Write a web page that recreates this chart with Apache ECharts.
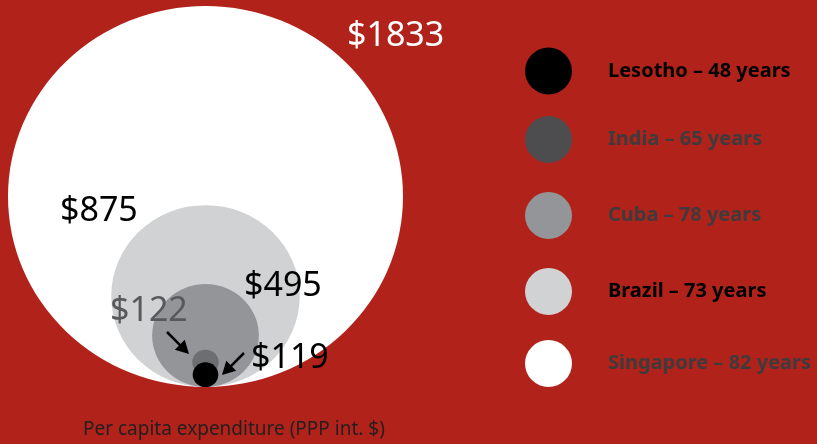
<!DOCTYPE html>
<html>
<head>
<meta charset="utf-8">
<script src="https://cdn.jsdelivr.net/npm/echarts@6/dist/echarts.min.js"></script>
<style>
  html, body { margin: 0; padding: 0; background: #b1221a; }
  #chart { width: 817px; height: 444px; }
</style>
</head>
<body>
<div id="chart"></div>
<script>
  // data
  const countries = ['Singapore', 'Brazil', 'Cuba', 'India', 'Lesotho'];
  const spend = [1833, 875, 495, 122, 119];       // per capita expenditure, PPP int. $
  const lifeExp = [82, 73, 78, 65, 48];           // life expectancy, years
  const legendOrder = ['Lesotho', 'India', 'Cuba', 'Brazil', 'Singapore'];

  // styles
  const fills = { Singapore: '#ffffff', Brazil: '#d1d2d4', Cuba: '#939598', India: '#6d6e70', Lesotho: '#000000' };
  const legendFills = { India: '#4d4d4f' };
  const legendText = { Lesotho: '#000000', India: '#3e3b3c', Cuba: '#3e3b3c', Brazil: '#000000', Singapore: '#3e3b3c' };
  const legendTops = [71, 139.5, 215.5, 291.5, 363.5];

  const grid = { left: 8, top: 6, width: 395, height: 381 };
  const maxSpend = Math.max.apply(null, spend);
  const kx = grid.width / maxSpend;
  const ky = grid.height / maxSpend;

  let myChart = echarts.init(document.getElementById('chart'));

  // circles sit on the baseline, diameter proportional to spending
  const series = countries.map((c, i) => ({
    name: c,
    type: 'scatter',
    data: [[0, spend[i] / 2, spend[i]]],
    symbol: 'circle',
    symbolSize: v => [v[2] * kx, v[2] * ky],
    symbolOffset: c === 'India' ? [0, -12] : [0, 0],
    itemStyle: { color: fills[c], opacity: 1 },
    emphasis: { disabled: true },
    silent: true
  }));

  // one legend per row so rows can sit where the picture has them
  const legends = legendOrder.map((c, i) => ({
    data: [{ name: c, itemStyle: legendFills[c] ? { color: legendFills[c] } : undefined }],
    left: 520,
    top: legendTops[i] - 23.5 - 5,
    icon: 'circle',
    itemWidth: 47,
    itemHeight: 47,
    selectedMode: false,
    formatter: n => n + ' \u2013 ' + lifeExp[countries.indexOf(n)] + ' years',
    textStyle: {
      color: legendText[c],
      fontFamily: 'Noto Sans',
      fontWeight: 'bold',
      fontSize: 20,
      padding: [0, 0, 0, 31]
    }
  }));

  function arrow(x1, y1, x2, y2) {
    const len = Math.hypot(x2 - x1, y2 - y1);
    const ux = (x2 - x1) / len, uy = (y2 - y1) / len;
    const hl = 13, hw = 7;
    const bx = x2 - ux * hl, by = y2 - uy * hl;
    return [
      { type: 'line', z: 100, shape: { x1: x1, y1: y1, x2: bx + ux, y2: by + uy }, style: { stroke: '#000', lineWidth: 2.5 } },
      { type: 'polygon', z: 100, shape: { points: [[x2, y2], [bx - uy * hw, by + ux * hw], [bx + uy * hw, by - ux * hw]] }, style: { fill: '#000' } }
    ];
  }

  const valueLabel = (i, x, y, color) => ({
    type: 'text', x: x, y: y, z: 100,
    style: { text: '$' + spend[i], fill: color, font: '34px "Noto Sans"', verticalAlign: 'middle' }
  });

  myChart.setOption({
    backgroundColor: '#b1221a',
    animation: false,
    grid: grid,
    xAxis: { type: 'value', min: -maxSpend / 2, max: maxSpend / 2, show: false },
    yAxis: { type: 'value', min: 0, max: maxSpend, show: false },
    legend: legends,
    series: series,
    graphic: [
      valueLabel(0, 347, 36, '#ffffff'),
      valueLabel(1, 60, 211, '#000000'),
      valueLabel(2, 244, 286, '#000000'),
      valueLabel(3, 110, 311, '#58595b'),
      valueLabel(4, 251, 358.5, '#000000'),
      ...arrow(167, 332, 189, 354),
      ...arrow(244, 353, 222, 375),
      { type: 'text', x: 83, y: 430, z: 100, style: { text: 'Per capita expenditure (PPP int. $)', fill: '#231f20', font: '19px "Noto Sans"', verticalAlign: 'middle' } }
    ]
  });
</script>
</body>
</html>
